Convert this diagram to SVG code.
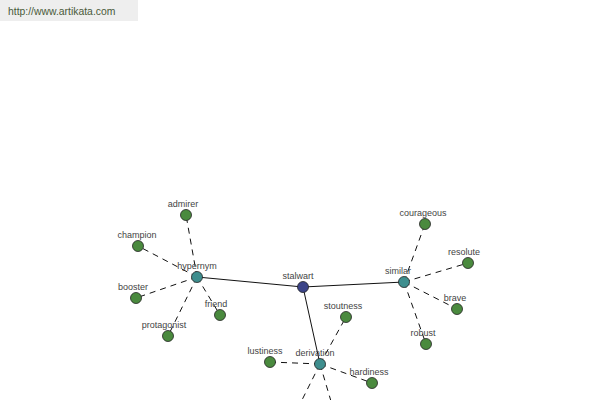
<svg xmlns="http://www.w3.org/2000/svg" width="600" height="400" viewBox="0 0 600 400">
<style>
.lbl{font-family:"Liberation Sans",Arial,sans-serif;font-size:9px;fill:#444;text-anchor:middle}
.leaf{fill:#4a8a3e;stroke:#222;stroke-width:0.8}
.hub{fill:#3e8e8e;stroke:#222;stroke-width:0.8}
.root{fill:#3c4488;stroke:#222;stroke-width:0.8}
.solid{stroke:#111;stroke-width:1;fill:none}
.dash{stroke:#111;stroke-width:1;fill:none;stroke-dasharray:6 5}
</style>
<rect width="600" height="400" fill="#fff"/>
<rect x="0" y="0" width="138" height="21" fill="#eeeeee"/>
<text x="8" y="15" font-family="Liberation Sans,Arial,sans-serif" font-size="10.4" fill="#4a5a3a">http://www.artikata.com</text>
<g id="connectors">
<line class="solid" x1="303" y1="287" x2="197" y2="277"/>
<line class="solid" x1="303" y1="287" x2="404" y2="282"/>
<line class="solid" x1="303" y1="287" x2="320" y2="364"/>
<line class="dash" x1="197" y1="277" x2="186" y2="215"/>
<line class="dash" x1="197" y1="277" x2="138" y2="246"/>
<line class="dash" x1="197" y1="277" x2="136" y2="298"/>
<line class="dash" x1="197" y1="277" x2="168" y2="336"/>
<line class="dash" x1="197" y1="277" x2="220" y2="315"/>
<line class="dash" x1="404" y1="282" x2="425" y2="224"/>
<line class="dash" x1="404" y1="282" x2="468" y2="263"/>
<line class="dash" x1="404" y1="282" x2="457" y2="309"/>
<line class="dash" x1="404" y1="282" x2="426" y2="344"/>
<line class="dash" x1="320" y1="364" x2="346" y2="317"/>
<line class="dash" x1="320" y1="364" x2="270" y2="362"/>
<line class="dash" x1="320" y1="364" x2="372" y2="383"/>
<line class="dash" x1="320" y1="364" x2="298" y2="408"/>
<line class="dash" x1="320" y1="364" x2="333" y2="408"/>
</g>
<g id="n-stalwart"><circle class="root" cx="303" cy="287" r="5.5"/><text class="lbl" x="298" y="279">stalwart</text></g>
<g id="n-hypernym"><circle class="hub" cx="197" cy="277" r="5.5"/><text class="lbl" x="197" y="269">hypernym</text></g>
<g id="n-similar"><circle class="hub" cx="404" cy="282" r="5.5"/><text class="lbl" x="398" y="274">similar</text></g>
<g id="n-derivation"><circle class="hub" cx="320" cy="364" r="5.5"/><text class="lbl" x="315" y="356">derivation</text></g>
<g id="n-admirer"><circle class="leaf" cx="186" cy="215" r="5.5"/><text class="lbl" x="183" y="207">admirer</text></g>
<g id="n-champion"><circle class="leaf" cx="138" cy="246" r="5.5"/><text class="lbl" x="137" y="238">champion</text></g>
<g id="n-booster"><circle class="leaf" cx="136" cy="298" r="5.5"/><text class="lbl" x="133" y="290">booster</text></g>
<g id="n-protagonist"><circle class="leaf" cx="168" cy="336" r="5.5"/><text class="lbl" x="164" y="328">protagonist</text></g>
<g id="n-friend"><circle class="leaf" cx="220" cy="315" r="5.5"/><text class="lbl" x="216" y="307">friend</text></g>
<g id="n-courageous"><circle class="leaf" cx="425" cy="224" r="5.5"/><text class="lbl" x="423" y="216">courageous</text></g>
<g id="n-resolute"><circle class="leaf" cx="468" cy="263" r="5.5"/><text class="lbl" x="464" y="255">resolute</text></g>
<g id="n-brave"><circle class="leaf" cx="457" cy="309" r="5.5"/><text class="lbl" x="455" y="301">brave</text></g>
<g id="n-robust"><circle class="leaf" cx="426" cy="344" r="5.5"/><text class="lbl" x="423" y="336">robust</text></g>
<g id="n-stoutness"><circle class="leaf" cx="346" cy="317" r="5.5"/><text class="lbl" x="343" y="309">stoutness</text></g>
<g id="n-lustiness"><circle class="leaf" cx="270" cy="362" r="5.5"/><text class="lbl" x="265" y="354">lustiness</text></g>
<g id="n-hardiness"><circle class="leaf" cx="372" cy="383" r="5.5"/><text class="lbl" x="369" y="375">hardiness</text></g>
</svg>
